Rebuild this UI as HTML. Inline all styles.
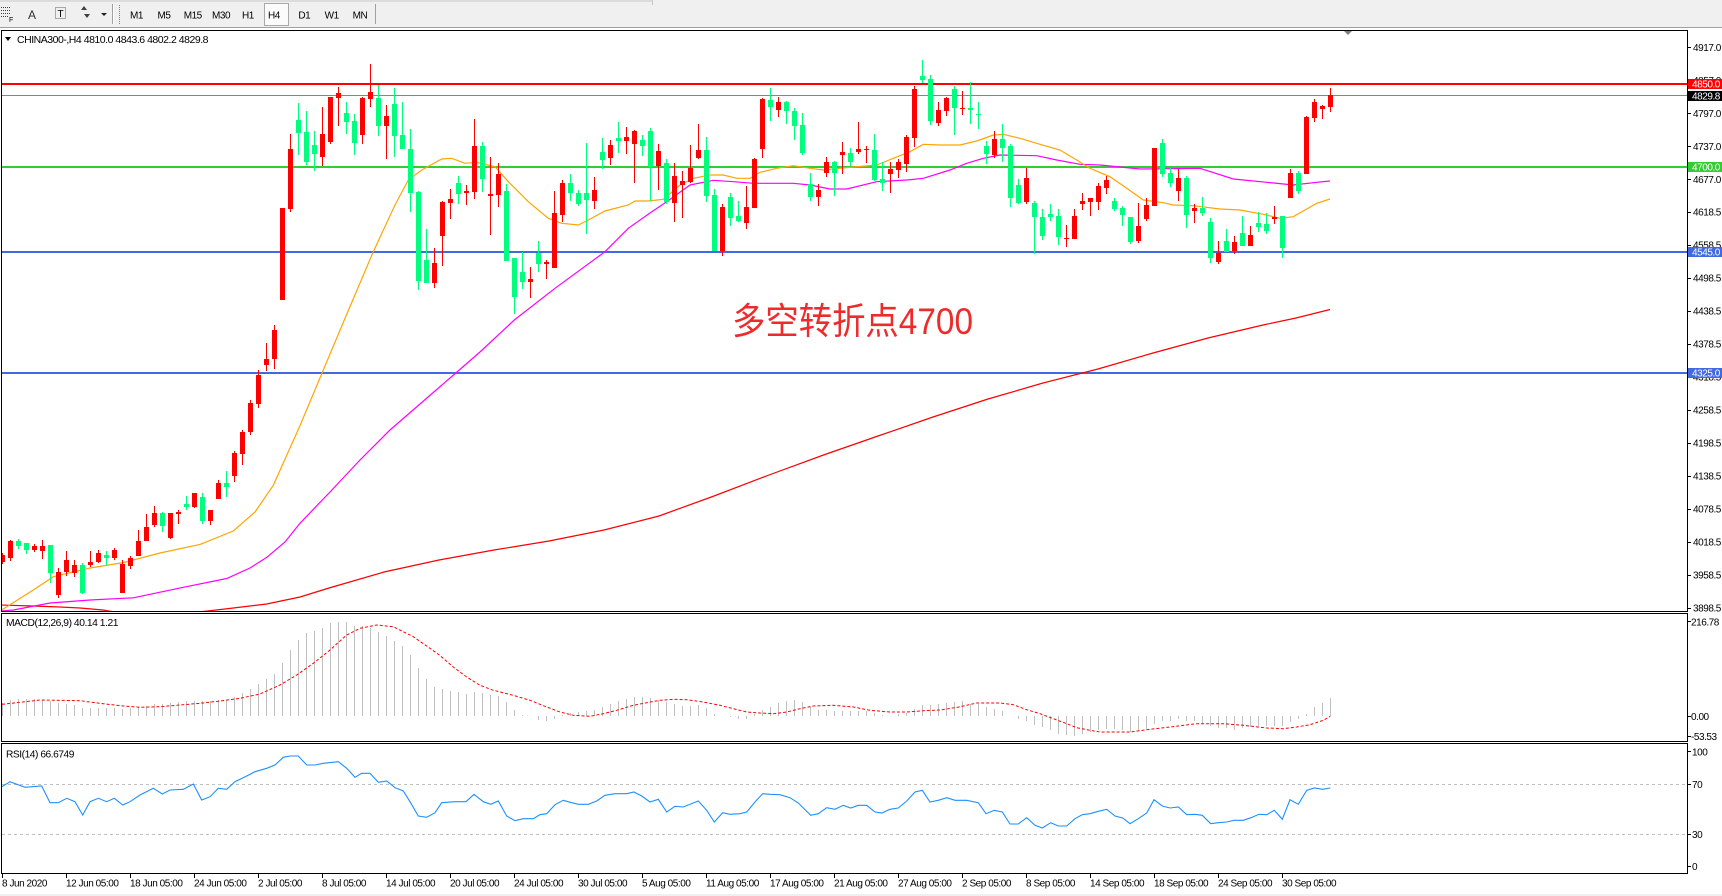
<!DOCTYPE html>
<html><head><meta charset="utf-8"><style>
html,body{margin:0;padding:0;background:#fff;}
svg{display:block;}
text{font-family:"Liberation Sans",sans-serif;font-size:10px;fill:#000;letter-spacing:-0.45px;}
.cjk{font-family:"Liberation Sans","Noto Sans CJK SC",sans-serif;letter-spacing:0;}
</style></head><body>
<svg width="1722" height="896" viewBox="0 0 1722 896" xmlns="http://www.w3.org/2000/svg">
<defs>
<clipPath id="cm"><rect x="2" y="31" width="1685" height="580"/></clipPath>
<clipPath id="cd"><rect x="2" y="614" width="1685" height="127"/></clipPath>
<clipPath id="cr"><rect x="2" y="744" width="1685" height="129"/></clipPath>
</defs>
<rect width="1722" height="896" fill="#fff"/>
<!-- toolbar -->
<rect x="0" y="0" width="1722" height="28" fill="#f0f0f0"/>
<line x1="0" y1="1" x2="652" y2="1" stroke="#c8c8c8"/>
<line x1="652.5" y1="0" x2="652.5" y2="5" stroke="#c8c8c8"/>
<line x1="0" y1="27.5" x2="1722" y2="27.5" stroke="#a0a0a0"/>
<g stroke="#404040" stroke-dasharray="1,1">
<line x1="1" y1="7.5" x2="10" y2="7.5"/><line x1="1" y1="10.5" x2="10" y2="10.5"/><line x1="1" y1="13.5" x2="10" y2="13.5"/><line x1="1" y1="16.5" x2="8" y2="16.5"/>
</g>
<text x="9" y="22" style="font-size:7px">F</text>
<text x="28" y="19" style="font-size:12px;fill:#303030">A</text>
<rect x="55.5" y="7.5" width="10" height="11" fill="none" stroke="#606060" stroke-dasharray="1,1"/>
<text x="57.5" y="17" style="font-size:10px">T</text>
<polygon points="84,6 81,10 87,10" fill="#404040"/>
<polygon points="87,18 84,14 90,14" fill="#404040"/>
<polygon points="101,13 107,13 104,16" fill="#202020"/>
<line x1="112.5" y1="4" x2="112.5" y2="24" stroke="#a0a0a0"/>
<line x1="113.5" y1="4" x2="113.5" y2="24" stroke="#fff"/>
<line x1="119.5" y1="5" x2="119.5" y2="24" stroke="#808080" stroke-dasharray="1,1"/>
<rect x="264.5" y="3.5" width="24" height="22" fill="#fbfbfb" stroke="#a8a8a8"/>
<g style="font-size:10px">
<text x="130" y="18.5">M1</text><text x="157.5" y="18.5">M5</text><text x="183.7" y="18.5">M15</text><text x="212" y="18.5">M30</text><text x="242" y="18.5">H1</text><text x="268" y="18.5">H4</text><text x="298.4" y="18.5">D1</text><text x="324.6" y="18.5">W1</text><text x="352.6" y="18.5">MN</text>
</g>
<line x1="375.5" y1="4" x2="375.5" y2="24" stroke="#a0a0a0"/>
<!-- frames -->
<g fill="none" stroke="#000">
<rect x="1.5" y="30.5" width="1686" height="581"/>
<rect x="1.5" y="613.5" width="1686" height="128"/>
<rect x="1.5" y="743.5" width="1686" height="130"/>
</g>
<polygon points="5,37 11,37 8,41" fill="#000"/>
<text x="17" y="43" textLength="191" lengthAdjust="spacingAndGlyphs">CHINA300-,H4  4810.0 4843.6 4802.2 4829.8</text>
<polygon points="1344,31 1352,31 1348,35" fill="#808080"/>
<!-- horizontal levels -->
<g clip-path="url(#cm)">
<line x1="2" y1="84" x2="1687" y2="84" stroke="#ff0000" stroke-width="2"/>
<line x1="2" y1="95.5" x2="1687" y2="95.5" stroke="#778899" stroke-width="1"/>
<line x1="2" y1="167" x2="1687" y2="167" stroke="#32cd32" stroke-width="2"/>
<line x1="2" y1="252" x2="1687" y2="252" stroke="#4169e1" stroke-width="2"/>
<line x1="2" y1="373" x2="1687" y2="373" stroke="#4169e1" stroke-width="2"/>
<!-- moving averages -->
<polyline fill="none" stroke="#ff0000" stroke-width="1.2" points="0,605 33,606 60,607 80,608 103,610 120,613 150,615 190,613 225,609 266.7,604 300,597 329,588 384,572 439,560 494,550 549,541 604,530 659,516 714,496 769,475 823.5,455 878,436 933,417 988,399 1043,383 1098,369 1153,353 1208,338 1263,325 1296,318 1330,309.5"/>
<polyline fill="none" stroke="#ff00ff" stroke-width="1.2" points="1.7,611 13.3,610 50,603 90,600 133.3,597.8 183.3,587.3 226.7,578.5 250,568 266.7,557.4 285,542 300,523.3 330,492 360,460 390,430 420,404 450,378 480,352 514.3,320 555,288.3 605,251.7 628.3,228.3 650,213 666.7,201.7 690,185 713.3,180.3 733.3,181.7 753.3,183.3 793.3,183.3 810,185 830,189 846.7,189 876.7,181.7 906.7,180 923.3,178.3 950,170 966.7,163.3 983.3,158.3 1000,155 1036.7,155.7 1056.7,160 1080,164.3 1100,165 1140,169 1200,168.3 1233.3,179 1266.7,182.3 1293.3,185 1316.7,182.3 1330,181"/>
<polyline fill="none" stroke="#ffa500" stroke-width="1.2" points="1.7,610 33.3,590 53.3,576.7 90,568 123.3,562.6 160,553 200,544.4 233.3,531 255,512 273.3,485.3 300,425.6 344.3,320 373.3,251.7 395,205 408.3,180 421.7,170 441.7,159 451.7,158.3 465,163.3 476.7,162.3 495,166.7 508.3,181.7 528.3,201.7 548.3,218.3 561.7,223.3 578.3,225 588.3,220 605,211 628.3,205 635,201 648.3,201 663.3,199.3 680,185 693.3,178.3 710,175 723.3,175 736.7,178.3 750,178.3 760,172.3 776.7,168.3 793.3,165.7 810,168.3 823.3,170 840,168.3 856.7,166.7 876.7,165 893.3,158.3 910,151.7 923.3,144.3 940,145 960,145 976.7,141 993.3,135 1003.3,134.3 1020,138.3 1040,144.3 1060,150 1076.7,160 1090,168.3 1110,176.7 1126.7,188.3 1143.3,200 1163.3,202.7 1173.3,205 1193.3,205.7 1220,209 1240,210 1263.3,214.3 1280,218.3 1293.3,216.7 1306.7,209 1316.7,203.3 1330,199"/>
<!-- candles -->
<g shape-rendering="crispEdges">
<path fill="none" stroke="#ff0000" stroke-width="1" d="M2.5 553V564M10.5 540V561M34.5 544V552M42.5 540V559M58.5 568V598M66.5 551V576M74.5 560V577M90.5 551V567M98.5 550V563M114.5 548V560M122.5 560V593M130.5 556V569M138.5 530V556M146.5 514V541M154.5 506V527M170.5 513V539M178.5 510V524M194.5 493V508M210.5 510V525M218.5 480V499M234.5 451V482M242.5 430V465M250.5 400V435M258.5 370V408M266.5 343V371M274.5 325V369M282.5 208V300M290.5 134V212M322.5 107V166M330.5 97V144M338.5 87V126M362.5 97V144M370.5 64V107M386.5 105V159M434.5 248V288M442.5 201V266M450.5 189V219M466.5 185V205M474.5 119V199M490.5 157V235M498.5 163V207M530.5 267V298M546.5 260V279M554.5 191V268M562.5 180V222M594.5 177V209M610.5 140V165M626.5 127V154M634.5 130V183M658.5 144V190M674.5 163V222M682.5 171V218M690.5 145V183M698.5 124V159M722.5 204V256M746.5 186V229M754.5 158V208M762.5 98V158M778.5 97V117M818.5 184V206M826.5 157V177M842.5 142V174M858.5 122V154M866.5 146V163M890.5 162V193M898.5 159V178M906.5 135V172M914.5 86V147M938.5 102V126M946.5 97V116M962.5 91V115M994.5 131V158M1026.5 168V204M1066.5 225V247M1074.5 209V239M1082.5 193V210M1090.5 198V216M1098.5 183V210M1106.5 176V194M1138.5 203V243M1146.5 198V221M1154.5 148V206M1178.5 169V201M1194.5 204V223M1218.5 241V264M1234.5 236V254M1250.5 226V246M1274.5 206V224M1290.5 169V198M1306.5 116V174M1314.5 99V122M1322.5 105V119M1330.5 88V112"/>
<path fill="#ff0000" d="M0 555h5v7h-5zM8 541h5v17h-5zM32 546h5v4h-5zM40 546h5v5h-5zM56 572h5v23h-5zM64 560h5v12h-5zM72 565h5v8h-5zM88 562h5v3h-5zM96 553h5v9h-5zM112 550h5v8h-5zM120 564h5v29h-5zM128 558h5v8h-5zM136 541h5v15h-5zM144 527h5v14h-5zM152 513h5v12h-5zM168 513h5v25h-5zM176 512h5v2h-5zM192 493h5v14h-5zM208 510h5v11h-5zM216 483h5v16h-5zM232 453h5v23h-5zM240 432h5v22h-5zM248 403h5v29h-5zM256 375h5v29h-5zM264 359h5v6h-5zM272 330h5v29h-5zM280 208h5v92h-5zM288 149h5v60h-5zM320 134h5v23h-5zM328 97h5v45h-5zM336 93h5v5h-5zM360 98h5v37h-5zM368 92h5v7h-5zM384 116h5v10h-5zM432 263h5v20h-5zM440 202h5v34h-5zM448 199h5v4h-5zM464 191h5v2h-5zM472 146h5v46h-5zM488 194h5v2h-5zM496 174h5v21h-5zM528 279h5v3h-5zM544 262h5v2h-5zM552 213h5v55h-5zM560 183h5v32h-5zM592 190h5v11h-5zM608 145h5v13h-5zM624 137h5v4h-5zM632 131h5v13h-5zM656 151h5v15h-5zM672 176h5v27h-5zM680 181h5v4h-5zM688 168h5v14h-5zM696 150h5v8h-5zM720 207h5v44h-5zM744 207h5v16h-5zM752 159h5v49h-5zM760 99h5v50h-5zM776 102h5v8h-5zM816 190h5v7h-5zM824 162h5v11h-5zM840 152h5v3h-5zM856 149h5v3h-5zM864 149h5v1h-5zM888 169h5v5h-5zM896 162h5v8h-5zM904 137h5v27h-5zM912 89h5v49h-5zM936 110h5v13h-5zM944 98h5v13h-5zM960 108h5v1h-5zM992 139h5v16h-5zM1024 178h5v24h-5zM1064 238h5v1h-5zM1072 216h5v23h-5zM1080 201h5v3h-5zM1088 198h5v4h-5zM1096 186h5v16h-5zM1104 180h5v8h-5zM1136 226h5v15h-5zM1144 205h5v14h-5zM1152 148h5v58h-5zM1176 178h5v13h-5zM1192 208h5v3h-5zM1216 253h5v9h-5zM1232 242h5v9h-5zM1248 235h5v11h-5zM1272 217h5v2h-5zM1288 173h5v25h-5zM1304 117h5v57h-5zM1312 102h5v16h-5zM1320 106h5v3h-5zM1328 95h5v12h-5z"/>
<path fill="none" stroke="#00ff7f" stroke-width="1" d="M18.5 539V549M26.5 543V554M50.5 545V583M82.5 563V594M106.5 551V565M162.5 512V532M186.5 496V510M202.5 493V524M226.5 471V497M298.5 103V155M306.5 111V165M314.5 131V171M346.5 102V134M354.5 114V155M378.5 85V136M394.5 88V157M402.5 102V149M410.5 129V212M418.5 191V290M426.5 229V283M458.5 176V204M482.5 142V192M506.5 184V261M514.5 258V314M522.5 252V289M538.5 241V272M570.5 174V201M578.5 190V206M586.5 143V234M602.5 138V169M618.5 122V153M642.5 135V156M650.5 128V201M666.5 159V204M706.5 137V202M714.5 189V251M730.5 193V226M738.5 201V222M770.5 88V121M786.5 101V124M794.5 108V140M802.5 113V155M810.5 173V201M834.5 161V196M850.5 148V166M874.5 134V181M882.5 162V191M922.5 60V83M930.5 75V125M954.5 86V135M970.5 82V124M978.5 102V129M986.5 141V164M1002.5 124V162M1010.5 144V207M1018.5 179V204M1034.5 201V254M1042.5 209V240M1050.5 204V221M1058.5 209V245M1114.5 198V211M1122.5 206V226M1130.5 217V244M1162.5 139V177M1170.5 168V187M1186.5 176V228M1202.5 197V216M1210.5 218V263M1226.5 229V252M1242.5 216V246M1258.5 212V232M1266.5 213V234M1282.5 216V258M1298.5 171V194"/>
<path fill="#00ff7f" d="M16 541h5v5h-5zM24 543h5v7h-5zM48 545h5v28h-5zM80 565h5v28h-5zM104 555h5v3h-5zM160 513h5v13h-5zM184 504h5v3h-5zM200 497h5v24h-5zM224 483h5v4h-5zM296 120h5v13h-5zM304 132h5v30h-5zM312 145h5v9h-5zM344 113h5v9h-5zM352 121h5v22h-5zM376 98h5v28h-5zM392 104h5v32h-5zM400 135h5v14h-5zM408 149h5v44h-5zM416 192h5v89h-5zM424 260h5v23h-5zM456 183h5v11h-5zM480 146h5v33h-5zM504 191h5v70h-5zM512 258h5v39h-5zM520 272h5v10h-5zM536 253h5v11h-5zM568 183h5v10h-5zM576 193h5v11h-5zM584 193h5v7h-5zM600 152h5v8h-5zM616 138h5v3h-5zM640 140h5v6h-5zM648 131h5v36h-5zM664 163h5v39h-5zM704 150h5v46h-5zM712 195h5v56h-5zM728 197h5v21h-5zM736 216h5v5h-5zM768 100h5v7h-5zM784 102h5v9h-5zM792 111h5v15h-5zM800 125h5v28h-5zM808 184h5v13h-5zM832 162h5v11h-5zM848 153h5v9h-5zM872 150h5v30h-5zM880 179h5v4h-5zM920 76h5v4h-5zM928 79h5v42h-5zM952 89h5v19h-5zM968 108h5v2h-5zM976 114h5v1h-5zM984 146h5v8h-5zM1000 139h5v9h-5zM1008 146h5v52h-5zM1016 185h5v18h-5zM1032 203h5v14h-5zM1040 217h5v19h-5zM1048 214h5v3h-5zM1056 216h5v21h-5zM1112 201h5v8h-5zM1120 208h5v7h-5zM1128 217h5v25h-5zM1160 143h5v31h-5zM1168 173h5v10h-5zM1184 178h5v37h-5zM1200 208h5v5h-5zM1208 222h5v36h-5zM1224 241h5v11h-5zM1240 233h5v13h-5zM1256 223h5v4h-5zM1264 224h5v7h-5zM1280 216h5v32h-5zM1296 173h5v18h-5z"/>
</g>
</g>
<text class="cjk" x="732" y="334" textLength="241" lengthAdjust="spacingAndGlyphs" style="font-size:37px;fill:#ee2b2b">多空转折点4700</text>
<!-- MACD -->
<text x="6" y="626" textLength="112" lengthAdjust="spacingAndGlyphs">MACD(12,26,9) 40.14 1.21</text>
<g clip-path="url(#cd)">
<path fill="none" stroke="#c0c0c0" stroke-width="1" shape-rendering="crispEdges" d="M2.5 716V703M10.5 716V700M18.5 716V699M26.5 716V699M34.5 716V699M42.5 716V700M50.5 716V701M58.5 716V703M66.5 716V704M74.5 716V705M82.5 716V708M90.5 716V708M98.5 716V708M106.5 716V708M114.5 716V708M122.5 716V709M130.5 716V708M138.5 716V707M146.5 716V706M154.5 716V704M162.5 716V704M170.5 716V703M178.5 716V702M186.5 716V701M194.5 716V701M202.5 716V701M210.5 716V701M218.5 716V700M226.5 716V700M234.5 716V697M242.5 716V693M250.5 716V689M258.5 716V684M266.5 716V679M274.5 716V674M282.5 716V663M290.5 716V650M298.5 716V640M306.5 716V633M314.5 716V631M322.5 716V628M330.5 716V623M338.5 716V622M346.5 716V622M354.5 716V626M362.5 716V626M370.5 716V628M378.5 716V632M386.5 716V636M394.5 716V641M402.5 716V646M410.5 716V655M418.5 716V668M426.5 716V679M434.5 716V687M442.5 716V689M450.5 716V691M458.5 716V692M466.5 716V694M474.5 716V692M482.5 716V693M490.5 716V695M498.5 716V696M506.5 716V702M514.5 716V710M522.5 716V715M538.5 716V720M546.5 716V721M554.5 716V719M562.5 716V715M570.5 716V713M578.5 716V712M586.5 716V711M594.5 716V710M602.5 716V707M610.5 716V704M618.5 716V701M626.5 716V699M634.5 716V697M642.5 716V697M650.5 716V698M658.5 716V700M666.5 716V702M674.5 716V704M682.5 716V706M690.5 716V706M698.5 716V705M706.5 716V708M714.5 716V714M730.5 716V717M738.5 716V719M746.5 716V719M754.5 716V714M762.5 716V710M770.5 716V707M778.5 716V703M786.5 716V701M794.5 716V700M802.5 716V702M810.5 716V707M818.5 716V710M826.5 716V710M834.5 716V711M842.5 716V711M850.5 716V711M858.5 716V711M866.5 716V711M874.5 716V713M882.5 716V715M898.5 716V714M906.5 716V713M914.5 716V709M922.5 716V705M930.5 716V705M938.5 716V704M946.5 716V703M954.5 716V702M962.5 716V701M970.5 716V704M978.5 716V704M986.5 716V707M994.5 716V709M1002.5 716V711M1018.5 716V719M1026.5 716V721M1034.5 716V725M1042.5 716V727M1050.5 716V730M1058.5 716V734M1066.5 716V735M1074.5 716V736M1082.5 716V734M1090.5 716V732M1098.5 716V730M1106.5 716V729M1114.5 716V729M1122.5 716V730M1130.5 716V732M1138.5 716V731M1146.5 716V729M1154.5 716V724M1162.5 716V721M1170.5 716V721M1178.5 716V719M1186.5 716V721M1194.5 716V721M1202.5 716V724M1210.5 716V726M1218.5 716V728M1226.5 716V728M1234.5 716V730M1242.5 716V728M1250.5 716V727M1258.5 716V726M1266.5 716V726M1274.5 716V726M1282.5 716V726M1290.5 716V722M1298.5 716V719M1306.5 716V714M1314.5 716V707M1322.5 716V703M1330.5 716V698"/>
<polyline fill="none" stroke="#ff0000" stroke-width="1" stroke-dasharray="3,2" points="2,704.3 20,702.3 40,700 80,700.7 100,703.3 120,705.7 140,707.3 160,706.7 180,705 200,703.3 220,701 240,698.3 260,694 280,685 296.7,675 313.3,663.3 330,650 346.7,635 360,628.3 376.7,625 393.3,626.7 413.3,636.7 430,648.3 440,655.5 453.3,667 466.7,677 480,685.3 493.3,690.3 513.3,695.3 530,700.3 546.7,707 560,712 573.3,715.3 590,716.3 603.3,713.7 616.7,710.3 633.3,705.3 646.7,702.7 660,700.3 673.3,699.3 686.7,699.7 703.3,702 720,705.3 733.3,708.7 746.7,712 760,713 773.3,713.7 786.7,712 800,708.7 813.3,706 833.3,705.3 853.3,707 870,710.3 890,712 906.7,712 923.3,710.7 940,710 959,707 976.7,703 1000,703 1013.3,704.7 1026.7,709.7 1040,713.7 1053.3,718.7 1066.7,723.7 1076.7,727.7 1090,730.3 1100,732 1130,732 1150,729.3 1170,727 1196.7,723.7 1223.3,723.7 1243.3,725.3 1266.7,728 1283.3,728.7 1296.7,727 1310,724.7 1323.3,720.3 1330.3,716.3"/>
</g>
<!-- RSI -->
<text x="6" y="757.5" textLength="68" lengthAdjust="spacingAndGlyphs">RSI(14) 66.6749</text>
<g clip-path="url(#cr)">
<line x1="2" y1="784.5" x2="1687" y2="784.5" stroke="#c0c0c0" stroke-dasharray="3,3"/>
<line x1="2" y1="834.5" x2="1687" y2="834.5" stroke="#c0c0c0" stroke-dasharray="3,3"/>
<polyline fill="none" stroke="#1e90ff" stroke-width="1.1" points="2,786.7 10,781.7 25,787.3 41.7,786 50,802.7 58.3,802.7 66.7,798.3 75,801.7 82.7,815 90,801.7 98.3,798.3 106.7,801.7 114.3,798.3 122.7,805 130,801.7 140,795 153.3,788.3 162.3,794 170,790 183.3,789.3 193.3,784 201.7,800 210,796.7 218.3,788.3 226.7,789.3 235,781.7 246.7,776 255,771.7 266.7,768.3 275,765 283.3,757.3 290,756 298.3,756 306.7,765 315,765 323.3,763.3 338.3,761.7 346.7,768.3 355,777.3 361.7,773.3 370,773.3 378.3,782.3 386.7,781 395,787.7 403.3,791 410,801.7 418.3,816 426.7,817.3 435,812.7 441.7,802.7 455,801.7 466,801.7 474,794.3 483.3,801.7 490.7,804.3 498.3,801 506.7,816 515,820.7 523.3,818.7 533.3,818.7 540,814.7 546.7,813.7 555,804.7 563.3,800.3 571.7,802.7 578.3,804.3 588.3,804.3 596.7,801 605,795.3 615,793.7 626.7,793.7 634,792 641.7,796 650,802 658.3,799.3 666.7,812 675,806.3 683.3,807 698.3,801 706.7,810.3 714.3,822 722.7,812.7 730,814.3 740,813.7 746.7,812 755,802 762.7,793.7 770,794.3 780,794.7 790,797.7 798.3,803 810.7,815.3 818.3,813.7 826.7,807.7 835,809.3 843.3,805.3 850.7,808 858.3,805.3 866.7,805.3 875,812 881.7,813 890,809.3 898.3,808 906.7,801 915,792 922.3,790.3 930,802 938.3,800.3 946.7,797.7 955,800.3 966.7,800.3 978.3,802.7 986,813.7 994.3,810.3 1002.3,812 1010,824 1018.3,824 1026.7,817.7 1035,825.3 1042.3,828 1050.7,822.7 1058.3,826 1066.7,826 1075,818.7 1082.3,814.7 1090,813.7 1098.3,811.3 1106.7,809.3 1115,816 1122.7,818 1130,823.7 1138.3,818.7 1146.7,813 1154,799.7 1162.3,806 1170,808 1178.3,807 1186.7,814.7 1195,814.3 1202.3,815.3 1210.7,823.7 1218.3,822.7 1226.7,822 1234,820.3 1243.3,820.3 1251,817.7 1259,814.3 1266.7,814.7 1274.3,810.3 1282.3,819.3 1290,799.7 1298.3,804.3 1306.7,790.3 1314.3,788 1322.7,789.3 1330.3,788"/>
</g>
<!-- right axis -->
<g stroke="#000" shape-rendering="crispEdges">
<path d="M1688 47.5h3M1688 80.5h3M1688 113.5h3M1688 146.5h3M1688 179.5h3M1688 212.5h3M1688 245.5h3M1688 278.5h3M1688 311.5h3M1688 344.5h3M1688 377.5h3M1688 410.5h3M1688 443.5h3M1688 476.5h3M1688 509.5h3M1688 542.5h3M1688 575.5h3M1688 608.5h3M1688 621.5h3M1688 716.5h3M1688 736.5h3M1688 751.5h3M1688 784.5h3M1688 834.5h3M1688 866.5h3"/>
</g>
<g>
<text x="1693" y="51">4917.0</text>
<text x="1693" y="84">4857.0</text>
<text x="1693" y="117">4797.0</text>
<text x="1693" y="150">4737.0</text>
<text x="1693" y="183">4677.0</text>
<text x="1693" y="215.5">4618.5</text>
<text x="1693" y="248.5">4558.5</text>
<text x="1693" y="281.5">4498.5</text>
<text x="1693" y="314.5">4438.5</text>
<text x="1693" y="347.5">4378.5</text>
<text x="1693" y="380.5">4318.5</text>
<text x="1693" y="413.5">4258.5</text>
<text x="1693" y="446.5">4198.5</text>
<text x="1693" y="479.5">4138.5</text>
<text x="1693" y="512.5">4078.5</text>
<text x="1693" y="545.5">4018.5</text>
<text x="1693" y="578.5">3958.5</text>
<text x="1693" y="611.5">3898.5</text>
<text x="1691" y="625.5">216.78</text>
<text x="1691" y="720">0.00</text>
<text x="1691" y="740">-53.53</text>
<text x="1692" y="755.5">100</text>
<text x="1692" y="788">70</text>
<text x="1692" y="838">30</text>
<text x="1692" y="870">0</text>
</g>
<rect x="1688" y="79" width="34" height="10" fill="#ff0000"/>
<text x="1692" y="87.5" style="fill:#fff">4850.0</text>
<rect x="1688" y="91" width="34" height="10" fill="#000"/>
<text x="1692" y="99.5" style="fill:#fff">4829.8</text>
<rect x="1688" y="162" width="34" height="10" fill="#32cd32"/>
<text x="1692" y="170.5" style="fill:#fff">4700.0</text>
<rect x="1688" y="247" width="34" height="10" fill="#4169e1"/>
<text x="1692" y="255.5" style="fill:#fff">4545.0</text>
<rect x="1688" y="368" width="34" height="10" fill="#4169e1"/>
<text x="1692" y="376.5" style="fill:#fff">4325.0</text>
<!-- bottom axis -->
<path stroke="#000" shape-rendering="crispEdges" d="M2.5 874v4M66.5 874v4M130.5 874v4M194.5 874v4M258.5 874v4M322.5 874v4M386.5 874v4M450.5 874v4M514.5 874v4M578.5 874v4M642.5 874v4M706.5 874v4M770.5 874v4M834.5 874v4M898.5 874v4M962.5 874v4M1026.5 874v4M1090.5 874v4M1154.5 874v4M1218.5 874v4M1282.5 874v4"/>
<g>
<text x="2" y="886.5">8 Jun 2020</text>
<text x="66" y="886.5">12 Jun 05:00</text>
<text x="130" y="886.5">18 Jun 05:00</text>
<text x="194" y="886.5">24 Jun 05:00</text>
<text x="258" y="886.5">2 Jul 05:00</text>
<text x="322" y="886.5">8 Jul 05:00</text>
<text x="386" y="886.5">14 Jul 05:00</text>
<text x="450" y="886.5">20 Jul 05:00</text>
<text x="514" y="886.5">24 Jul 05:00</text>
<text x="578" y="886.5">30 Jul 05:00</text>
<text x="642" y="886.5">5 Aug 05:00</text>
<text x="706" y="886.5">11 Aug 05:00</text>
<text x="770" y="886.5">17 Aug 05:00</text>
<text x="834" y="886.5">21 Aug 05:00</text>
<text x="898" y="886.5">27 Aug 05:00</text>
<text x="962" y="886.5">2 Sep 05:00</text>
<text x="1026" y="886.5">8 Sep 05:00</text>
<text x="1090" y="886.5">14 Sep 05:00</text>
<text x="1154" y="886.5">18 Sep 05:00</text>
<text x="1218" y="886.5">24 Sep 05:00</text>
<text x="1282" y="886.5">30 Sep 05:00</text>
</g>
<rect x="0" y="894" width="1722" height="2" fill="#f0f0f0"/>
</svg>
</body></html>
